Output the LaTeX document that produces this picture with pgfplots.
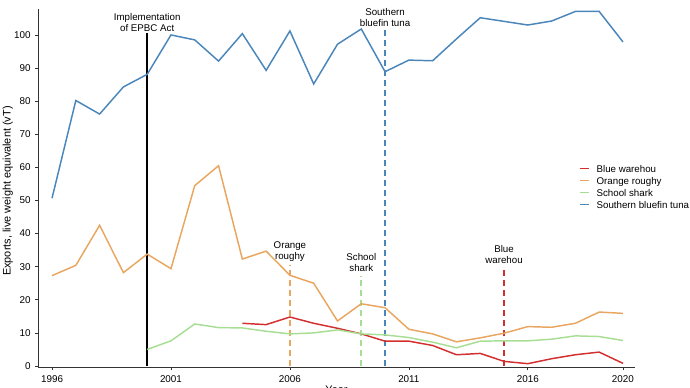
\documentclass[border=0pt]{standalone}
\usepackage{pgfplots}
\pgfplotsset{compat=1.18}
\usepackage{fontspec}
\setmainfont{Liberation Sans}
\definecolor{cred}{HTML}{D32F2F}
\definecolor{corange}{HTML}{E8A660}
\definecolor{cgreen}{HTML}{A8DE94}
\definecolor{cblue}{HTML}{4A86BA}
\definecolor{axgray}{HTML}{333333}
\begin{document}
\begin{tikzpicture}[x=1pt,y=1pt]
\begin{axis}[
  name=ax,
  scale only axis,
  width=447.75pt, height=268.9pt,
  xmin=1995.41, xmax=2020.506,
  ymin=-0.45, ymax=107.85,
  axis x line*=bottom, axis y line*=left,
  axis line style={axgray, line width=0.6pt, -},
  xtick={1996,2001,2006,2011,2016,2020},
  ytick={0,10,...,100},
  tick style={axgray, line width=0.5pt},
  tick align=outside, major tick length=2pt,
  /pgf/number format/.cd, 1000 sep={}, assume math mode=true,
  /pgfplots/.cd,
  tick label style={font=\fontsize{7.4}{8}\selectfont, text=black},
  xticklabel style={yshift=-0.5pt},
  xlabel={Year}, ylabel={Exports, live weight equivalent (vT)},
  label style={font=\fontsize{8.2}{9}\selectfont},
  xlabel style={yshift=4pt},
  ylabel style={at={(ticklabel cs:0.492)}, yshift=-6pt},
  clip=false,
  legend style={at={(axis cs:2018.15,53.6)}, anchor=west, draw=none, fill=none,
    inner sep=0pt, font=\fontsize{7.3}{9}\selectfont,
    nodes={inner sep=0pt, text height=6pt, text depth=3pt},
    row sep=0pt},
  legend cell align=left,
  legend image code/.code={\draw[#1,line width=1.3pt] (0pt,1.5pt) -- (6.75pt,1.5pt);},
  /tikz/every even column/.append style={column sep=0pt},
  /tikz/every odd column/.append style={column sep=5pt},
]
% vertical reference lines
\addplot[black, line width=1.4pt, forget plot] coordinates {(2000,0) (2000,100.5)};
\addplot[corange, line width=1.1pt, dash pattern=on 4.5pt off 3pt, forget plot] coordinates {(2006,0) (2006,30.5)};
\addplot[cgreen, line width=1.2pt, dash pattern=on 4.5pt off 3pt, forget plot] coordinates {(2009,0) (2009,27.2)};
\addplot[cblue, line width=1.1pt, dash pattern=on 4.5pt off 3pt, forget plot] coordinates {(2010,0) (2010,102)};
\addplot[cred, line width=1.1pt, dash pattern=on 4.5pt off 3pt, forget plot] coordinates {(2015,0) (2015,29.6)};

\addplot[cred, line width=1.1pt] coordinates {
(2004,12.9) (2005,12.5) (2006,14.8) (2007,12.9) (2008,11.4) (2009,9.7) (2010,7.5)
(2011,7.5) (2012,6.2) (2013,3.4) (2014,3.8) (2015,1.4) (2016,0.7) (2017,2.2)
(2018,3.4) (2019,4.2) (2020,0.8)};
\addlegendentry{Blue warehou}
\addplot[corange, line width=1.1pt] coordinates {
(1996,27.3) (1997,30.4) (1998,42.5) (1999,28.2) (2000,33.8) (2001,29.4) (2002,54.5)
(2003,60.5) (2004,32.3) (2005,34.7) (2006,27.4) (2007,25.0) (2008,13.6) (2009,18.8)
(2010,17.6) (2011,11.1) (2012,9.7) (2013,7.3) (2014,8.5) (2015,9.9) (2016,11.9)
(2017,11.7) (2018,12.9) (2019,16.3) (2020,15.9)};
\addlegendentry{Orange roughy}
\addplot[cgreen, line width=1.1pt] coordinates {
(2000,5.0) (2001,7.6) (2002,12.7) (2003,11.6) (2004,11.5) (2005,10.5) (2006,9.7)
(2007,10.0) (2008,10.9) (2009,9.7) (2010,9.4) (2011,8.6) (2012,7.2) (2013,5.5)
(2014,7.5) (2015,7.6) (2016,7.6) (2017,8.1) (2018,9.1) (2019,8.9) (2020,7.7)};
\addlegendentry{School shark}
\addplot[cblue, line width=1.1pt] coordinates {
(1996,50.7) (1997,80.2) (1998,76.1) (1999,84.3) (2000,88.1) (2001,100.0) (2002,98.5)
(2003,92.1) (2004,100.4) (2005,89.3) (2006,101.2) (2007,85.2) (2008,97.2) (2009,101.8)
(2010,88.9) (2011,92.4) (2012,92.2) (2013,98.8) (2014,105.2) (2015,104.1) (2016,103.0)
(2017,104.2) (2018,107.1) (2019,107.1) (2020,97.9)};
\addlegendentry{Southern bluefin tuna}

\begin{scope}[every node/.style={font=\fontsize{7.3}{8.3}\selectfont, align=center, anchor=south, inner sep=1pt}]
\node at (axis cs:2000,100.5) {Implementation\\of EPBC Act};
\node at (axis cs:2006,31.2) {Orange\\roughy};
\node at (axis cs:2009,28.0) {School\\shark};
\node at (axis cs:2010,102) {Southern\\bluefin tuna};
\node at (axis cs:2015,30.3) {Blue\\warehou};
\end{scope}
\end{axis}
\pgfresetboundingbox
\useasboundingbox (ax.south west) ++(-28.5pt,-15.375pt) rectangle ++(517.5pt,291pt);
\end{tikzpicture}
\end{document}
